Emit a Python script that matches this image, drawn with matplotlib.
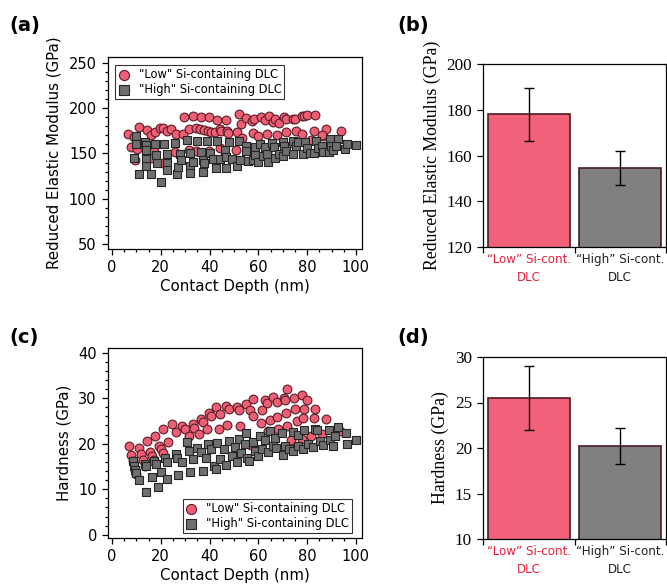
import matplotlib
matplotlib.use("Agg")
import matplotlib.pyplot as plt
from matplotlib.ticker import MultipleLocator

# ---------------- data ----------------
# (a) Reduced elastic modulus vs contact depth
low_E_depth = [29.6, 33.3, 36.6, 39.9, 43.0, 46.7, 52.1, 52.9, 54.9, 57.5, 58.2, 61.1, 62.7, 64.5, 66.2,
               66.8, 68.4, 70.7, 71.4, 74.4, 75.1, 77.8, 78.8, 79.9, 83.4,
               6.8, 7.9, 8.9, 11.0, 14.2, 16.2, 17.8, 19.9, 21.0, 22.6, 24.4, 26.2, 29.2, 31.8, 34.4,
               36.0, 37.7, 39.3, 40.5, 42.2, 44.1, 44.7, 47.1, 47.5, 51.4, 53.4, 57.7, 60.0, 63.4,
               67.5, 71.4, 75.6, 78.1, 83.0, 86.7, 87.7, 93.8,
               9.3, 10.3, 16.2, 17.1, 21.0, 25.8, 31.6, 34.4, 39.9, 44.2, 50.8, 63.4, 74.4, 81.6, 86.0]
low_E_mod = [190.0, 191.5, 190.0, 190.4, 187.1, 187.4, 193.3, 182.7, 189.7, 186.0, 188.6, 190.0, 187.0, 191.1, 185.0,
             188.0, 184.0, 190.0, 188.0, 188.0, 188.0, 191.0, 191.5, 192.0, 193.0,
             171.4, 157.0, 168.0, 179.0, 176.0, 170.7, 174.3, 178.0, 178.7, 175.0, 177.6, 172.0, 171.4, 176.9, 178.0,
             176.9, 175.8, 174.7, 173.2, 173.6, 177.0, 174.7, 175.0, 172.9, 174.3, 167.0, 172.5, 168.8, 171.4,
             170.7, 173.2, 175.4, 172.0, 175.4, 169.6, 176.9, 174.7,
             143.2, 155.0, 145.0, 152.4, 139.6, 151.6, 154.2, 152.4, 153.1, 156.0, 153.5, 151.6, 161.5, 165.2, 170.7]

high_E_depth = [9.9, 9.0, 10.0, 11.1, 13.6, 13.8, 13.8, 13.8, 14.1, 16.0, 17.7, 18.2, 18.5, 20.1, 21.2,
                22.7, 22.7, 22.5, 26.0, 26.7, 27.1, 27.8, 28.5, 30.8, 31.9, 31.9, 32.2, 33.3, 34.9, 36.4,
                37.4, 37.3, 37.7, 39.0, 40.3, 41.5, 42.6, 43.2, 44.1, 46.2, 46.7, 46.7, 48.1, 49.3, 51.2,
                52.1, 52.6, 55.1, 54.9, 55.9, 57.9, 58.8, 58.6, 59.7, 60.7, 61.8, 62.7, 63.6, 64.1, 65.5,
                66.6, 67.0, 68.4, 70.1, 70.5, 70.0, 71.4, 74.1, 74.4, 75.5, 76.2, 78.4, 79.2, 79.9, 81.2,
                82.9, 83.7, 84.4, 86.0, 86.7, 88.8, 89.5, 89.9, 90.5, 92.5, 91.8, 95.6, 96.3, 100.0]
high_E_mod = [169.6, 145.0, 160.4, 127.5, 162.6, 159.7, 154.2, 144.3, 136.7, 126.8, 160.8, 148.6, 139.6, 118.7, 160.8,
              149.5, 139.6, 132.3, 161.5, 127.9, 134.8, 149.1, 142.5, 164.4, 150.5, 136.0, 128.6, 140.3, 164.1, 151.6,
              143.2, 129.7, 139.6, 164.1, 150.5, 143.9, 134.1, 163.3, 144.3, 154.2, 146.2, 134.1, 163.0, 143.9, 136.7,
              163.3, 142.5, 157.9, 153.1, 141.4, 143.2, 157.1, 148.6, 140.7, 160.8, 147.6, 157.1, 149.1, 140.7, 161.5,
              156.8, 145.0, 149.8, 162.6, 158.6, 147.3, 153.1, 149.5, 163.3, 157.9, 162.3, 149.1, 162.6, 156.0, 150.5,
              150.5, 163.3, 156.4, 157.9, 151.6, 151.6, 166.3, 158.6, 153.5, 166.0, 157.9, 155.3, 160.8, 159.7]

# (c) Hardness vs contact depth
low_H_depth = [7.0, 7.7, 8.8, 9.6, 10.0, 11.1, 11.9, 12.7, 13.7, 14.2, 15.8, 16.3, 17.1, 17.8, 19.3,
               20.0, 20.8, 21.1, 23.0, 24.5, 26.4, 28.9, 29.9, 31.6, 33.2, 33.8, 35.8, 36.6, 37.4, 39.0,
               39.9, 40.7, 42.7, 44.0, 44.2, 47.0, 46.7, 47.8, 51.1, 52.2, 52.6, 54.9, 56.6, 57.7, 57.9,
               57.0, 61.4, 61.1, 62.7, 63.4, 64.1, 64.8, 65.9, 67.5, 67.8, 68.2, 70.7, 71.1, 71.2, 71.9,
               71.6, 73.3, 74.8, 75.1, 75.8, 78.1, 78.2, 78.9, 77.8, 79.9, 81.6, 82.7, 83.4, 86.0, 87.7, 93.6]
low_H = [19.5, 17.6, 16.1, 14.3, 13.4, 19.1, 17.8, 16.5, 15.1, 20.5, 18.1, 17.4, 16.5, 21.7, 19.6,
         18.8, 17.9, 23.2, 20.3, 24.4, 22.5, 23.8, 23.2, 21.6, 24.4, 23.5, 22.1, 25.5, 24.8, 23.3,
         26.7, 26.0, 28.0, 23.3, 26.5, 24.1, 28.3, 27.6, 28.0, 27.4, 23.8, 28.7, 27.3, 29.8, 26.1,
         19.7, 27.3, 24.5, 29.5, 29.0, 22.7, 25.2, 30.2, 29.1, 25.8, 23.2, 30.0, 29.5, 26.8, 32.0,
         23.9, 20.8, 30.0, 27.6, 24.9, 30.7, 25.6, 27.6, 21.0, 29.6, 21.7, 25.6, 27.6, 22.1, 25.5, 22.8]

high_H_depth = [8.6, 9.0, 9.6, 10.0, 11.1, 13.6, 13.8, 14.1, 16.3, 17.4, 17.9, 18.8, 20.1, 21.6, 22.7,
                22.5, 26.2, 26.6, 27.1, 28.6, 30.8, 31.8, 32.2, 33.3, 34.9, 36.6, 37.3, 38.4, 39.3, 40.7,
                41.8, 42.6, 43.2, 44.2, 45.9, 46.6, 48.1, 49.3, 50.3, 51.4, 52.1, 52.8, 54.4, 54.9, 55.2,
                56.3, 57.9, 58.8, 59.7, 60.5, 61.5, 62.7, 63.8, 64.8, 65.9, 66.7, 67.3, 69.6, 70.0, 71.0,
                72.5, 74.1, 74.4, 76.2, 76.4, 78.2, 78.9, 80.5, 82.3, 83.3, 83.9, 85.3, 86.4, 88.8, 89.5,
                90.5, 91.5, 92.6, 96.0, 96.3, 100.0]
high_H = [16.1, 15.1, 14.3, 13.5, 12.1, 15.6, 15.0, 9.4, 12.7, 16.2, 15.6, 10.6, 13.7, 16.8, 15.9,
          12.2, 17.8, 16.8, 13.2, 15.9, 20.3, 18.3, 13.7, 16.6, 19.0, 18.1, 14.1, 16.9, 19.9, 18.8,
          15.1, 14.4, 20.1, 16.6, 18.9, 15.4, 20.6, 17.3, 19.2, 15.9, 21.0, 17.9, 19.9, 22.3, 16.8,
          16.2, 20.3, 18.4, 17.2, 21.6, 18.9, 20.8, 18.1, 22.8, 19.6, 21.2, 19.0, 22.4, 17.6, 19.4,
          18.8, 22.5, 18.3, 19.5, 21.9, 18.9, 22.9, 19.9, 19.2, 23.2, 22.9, 20.5, 19.7, 23.0, 20.8,
          19.5, 21.7, 23.6, 22.3, 20.0, 20.8]

# (b), (d) bar summaries
bar_labels = ["\u201cLow\u201d Si-cont.\nDLC", "\u201cHigh\u201d Si-cont.\nDLC"]
mod_mean = [178.0, 154.5]
mod_err = [11.7, 7.5]
hard_mean = [25.5, 20.2]
hard_err = [3.5, 2.0]

legend_labels = ['"Low" Si-containing DLC', '"High" Si-containing DLC']

# ---------------- style ----------------
SANS = ["DejaVu Sans"]
SERIF = ["Liberation Serif", "DejaVu Serif"]
RED = "#EE5F76"
RED_EDGE = "#5A1E26"
GRAY = "#6F6F6F"
GRAY_EDGE = "#262626"
BAR_RED = "#F1627A"
BAR_GRAY = "#808080"
BAR_EDGE = "#4A1A20"

fig = plt.figure(figsize=(6.67, 5.87), dpi=100)


def ax_px(l, t, r, b):
    return fig.add_axes([l / 667, 1 - b / 587, (r - l) / 667, (b - t) / 587])


def style_common(ax, font, size):
    for s in ax.spines.values():
        s.set_linewidth(0.9)
    ax.tick_params(which="both", direction="out", top=False, right=False, width=0.9)
    ax.tick_params(which="major", length=4.5)
    ax.tick_params(which="minor", length=2.5)
    for lab in ax.get_yticklabels():
        lab.set_family(font)
        lab.set_fontsize(size)


def scatter_panel(ax, xl, yl, xh, yh, ylim, ymajor, yminor, ylabel, legend_loc, legend_anchor):
    ax.scatter(xl, yl, s=40, marker="o", facecolor=RED, edgecolor=RED_EDGE, linewidths=0.8,
               label=legend_labels[0], zorder=3)
    ax.scatter(xh, yh, s=40, marker="s", facecolor=GRAY, edgecolor=GRAY_EDGE, linewidths=0.8,
               label=legend_labels[1], zorder=3)
    ax.set_xlim(-1.6, 102.5)
    ax.set_ylim(*ylim)
    ax.xaxis.set_major_locator(MultipleLocator(20))
    ax.xaxis.set_minor_locator(MultipleLocator(5))
    ax.yaxis.set_major_locator(MultipleLocator(ymajor))
    ax.yaxis.set_minor_locator(MultipleLocator(yminor))
    style_common(ax, SANS, 10.5)
    for lab in ax.get_xticklabels():
        lab.set_family(SANS)
        lab.set_fontsize(10.5)
    ax.set_xlabel("Contact Depth (nm)", family=SANS, fontsize=10.8, labelpad=3)
    ax.set_ylabel(ylabel, family=SANS, fontsize=10.8, labelpad=5)
    leg = ax.legend(loc=legend_loc, bbox_to_anchor=legend_anchor, prop={"family": SANS, "size": 8.3},
                    frameon=True, fancybox=False, edgecolor="black", borderpad=0.25,
                    labelspacing=0.2, handletextpad=0.8, borderaxespad=0.0, handlelength=1.0,
                    markerscale=1.15)
    leg.get_frame().set_linewidth(0.8)


def bar_panel(ax, means, errs, ylim, ymajor, ylabel):
    pos = list(range(len(means)))
    ax.bar(pos, means, width=0.9, color=[BAR_RED, BAR_GRAY], edgecolor=BAR_EDGE, linewidth=1.2,
           yerr=errs, error_kw=dict(ecolor="black", elinewidth=1.0, capsize=3.5, capthick=1.0),
           zorder=2)
    ax.set_xlim(-0.5, 1.5)
    ax.set_ylim(*ylim)
    ax.yaxis.set_major_locator(MultipleLocator(ymajor))
    ax.set_xticks([-0.5, 0.5, 1.5])
    ax.set_xticklabels(["", "", ""])
    ax.set_xticks(pos, minor=True)
    ax.set_xticklabels(bar_labels, minor=True)
    style_common(ax, SERIF, 12.3)
    ax.tick_params(axis="x", which="minor", length=0, pad=4)
    ax.tick_params(axis="x", which="major", length=4.5)
    ax.set_ylabel(ylabel, family=SERIF, fontsize=12.8, labelpad=4)
    colors = ["#E5213A", "#222222"]
    for lab, c in zip(ax.get_xticklabels(minor=True), colors):
        lab.set_family(SANS)
        lab.set_fontsize(8.6)
        lab.set_color(c)
        lab.set_linespacing(1.5)


axA = ax_px(108, 57, 362, 249)
axB = ax_px(483, 64, 666, 247)
axC = ax_px(108, 348, 362, 538)
axD = ax_px(483, 357, 666, 539)

scatter_panel(axA, low_E_depth, low_E_mod, high_E_depth, high_E_mod, (44.5, 256.6), 50, 10,
              "Reduced Elastic Modulus (GPa)", "upper left", (7 / 254, 1 - 8 / 192))
scatter_panel(axC, low_H_depth, low_H, high_H_depth, high_H, (-0.7, 41.0), 10, 2,
              "Hardness (GPa)", "lower right", (1 - 10 / 254, 5 / 190))
bar_panel(axB, mod_mean, mod_err, (120, 200), 20, "Reduced Elastic Modulus (GPa)")
bar_panel(axD, hard_mean, hard_err, (10, 30), 5, "Hardness (GPa)")

for txt, x, y in [("(a)", 9, 26), ("(b)", 397, 26), ("(c)", 9, 338), ("(d)", 397, 338)]:
    fig.text(x / 667, 1 - y / 587, txt, family=SANS, fontweight="bold", fontsize=14,
             ha="left", va="center")

fig.savefig("out.png", dpi=100)
